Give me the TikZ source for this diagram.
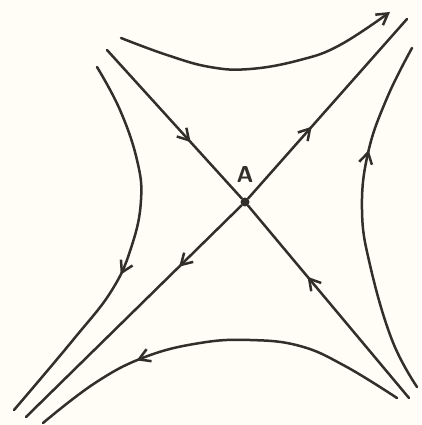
\documentclass[tikz,border=0pt]{standalone}
\usetikzlibrary{arrows.meta,decorations.markings}
\definecolor{ink}{RGB}{50,46,42}
\definecolor{paper}{RGB}{255,253,246}

\begin{document}
\begin{tikzpicture}[
  x=1pt, y=-1pt,
  orbit/.style={draw=ink, line width=2.5pt, line cap=round, line join=round},
  barb/.style={-{Straight Barb[length=11pt, width=13pt]}},
  flowat/.style={postaction={decorate}, decoration={markings,
    mark=at position #1 with {\arrow{Straight Barb[length=11pt, width=13pt]}}}},
  dot/.style={circle, fill=ink, inner sep=0pt, minimum size=9pt},
  lbl/.style={font=\fontsize{23}{23}\sffamily\bfseries, text=ink}
]
\fill[paper] (0,0) rectangle (421,425);
\useasboundingbox (0,0) rectangle (421,425);

% saddle point
\node[dot] (A) at (245,202) {};
\node[lbl] (Alabel) at (245,175) {A};

% ends of the separatrices
\coordinate (stabTL) at (107,50);
\coordinate (stabBR) at (409,398);
\coordinate (unstTR) at (407,19);
\coordinate (unstBL) at (26,417);

% stable separatrices (into A)
\draw[orbit, flowat=0.62] (stabTL) -- (A);
\draw[orbit, flowat=0.63] (stabBR) -- (A);
% unstable separatrices (out of A)
\draw[orbit, flowat=0.40] (A) -- (unstTR);
\draw[orbit, flowat=0.29] (A) -- (unstBL);

% neighbouring orbits
\draw[orbit, barb] plot[smooth, tension=0.7] coordinates {
  (121,38) (167,55) (210,67) (250,69) (300,60) (340,45) (390,12)};
\draw[orbit, flowat=0.56] plot[smooth, tension=0.7] coordinates {
  (97,67) (120,110) (137,160) (141,200) (132,245) (112,290)
  (73,340) (14,410)};
\draw[orbit, flowat=0.69] plot[smooth, tension=0.7] coordinates {
  (417,387) (392,340) (370,265) (362,210) (368,153)
  (387,98) (412,48)};
\draw[orbit, flowat=0.71] plot[smooth, tension=0.7] coordinates {
  (397,398) (345,366) (300,346) (250,340) (200,343)
  (145,357) (95,383) (43,423)};
\end{tikzpicture}
\end{document}
